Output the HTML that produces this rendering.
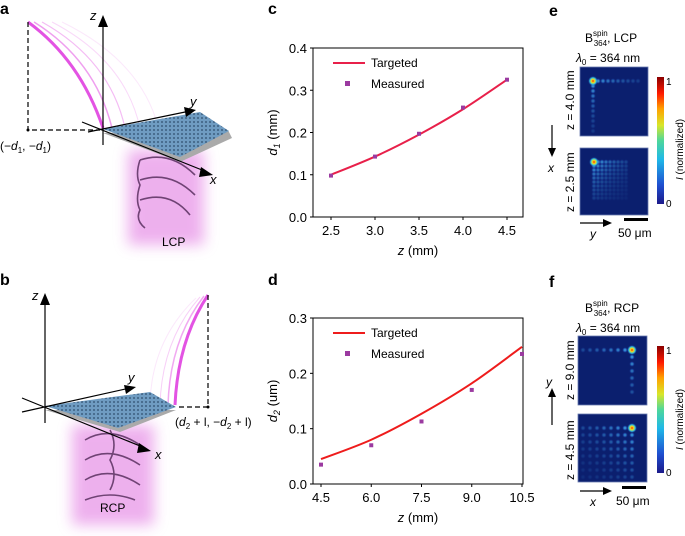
<!DOCTYPE html>
<html><head><meta charset="utf-8"><style>
html,body{margin:0;padding:0;background:#fff;}
svg{display:block;font-family:"Liberation Sans",sans-serif;}
</style></head><body>
<svg id="fig" width="685" height="536" viewBox="0 0 685 536" xmlns="http://www.w3.org/2000/svg">
<defs>
<filter id="blur6" x="-50%" y="-50%" width="200%" height="200%"><feGaussianBlur stdDeviation="7"/></filter>
<pattern id="pillars" width="4" height="4" patternUnits="userSpaceOnUse"><rect width="4" height="4" fill="#6f9cc2"/><circle cx="2" cy="2" r="1" fill="#3d5f80"/></pattern>
<linearGradient id="cbar" x1="0" y1="1" x2="0" y2="0">
<stop offset="0" stop-color="#1c1a8a"/><stop offset="0.15" stop-color="#1f4fd0"/><stop offset="0.35" stop-color="#1fb8e8"/><stop offset="0.5" stop-color="#4fd79a"/><stop offset="0.62" stop-color="#d8e62a"/><stop offset="0.75" stop-color="#ffa000"/><stop offset="0.87" stop-color="#ff1a00"/><stop offset="1" stop-color="#8a0000"/>
</linearGradient>
<radialGradient id="spot"><stop offset="0" stop-color="#ff2a00"/><stop offset="0.35" stop-color="#f0e020"/><stop offset="0.65" stop-color="#30c0e0"/><stop offset="1" stop-color="#1a3aa0" stop-opacity="0"/></radialGradient>
<radialGradient id="dot"><stop offset="0" stop-color="#50d0f0"/><stop offset="0.5" stop-color="#2a70d0"/><stop offset="1" stop-color="#1a3aa0" stop-opacity="0"/></radialGradient>
</defs>

<g font-weight="bold" font-size="16">
<text x="0" y="14">a</text><text x="0" y="285">b</text>
<text x="268" y="14">c</text><text x="268" y="285">d</text>
<text x="549" y="16">e</text><text x="549" y="287">f</text>
</g>

<g>
<rect x="128" y="150" width="76" height="95" fill="#e070e0" opacity="0.55" filter="url(#blur6)"/>
<g stroke="#5a3060" stroke-width="1.6" fill="none" opacity="0.85">
<path d="M140 160 Q170 150 195 175 M140 180 Q170 170 195 195 M140 200 Q170 190 190 215"/>
<path d="M140 160 Q135 175 140 185 Q135 200 140 210 Q135 220 145 228"/>
</g>
<text x="162" y="246" font-size="12">LCP</text>
<g stroke="#e040e0" fill="none">
<path d="M28 22 Q80 60 103 128" stroke-width="3" opacity="0.9"/>
<path d="M34 22 Q95 60 112 128" stroke-width="1.5" opacity="0.5"/>
<path d="M42 22 Q110 60 125 128" stroke-width="1.2" opacity="0.35"/>
<path d="M52 22 Q125 60 140 128" stroke-width="1" opacity="0.2"/>
<path d="M62 22 Q140 60 158 126" stroke-width="1" opacity="0.12"/>
</g>
<polygon points="103,133 228,130 232,138 180,162" fill="#aaa"/>
<polygon points="103,129 200,112 229,131 180,157" fill="url(#pillars)"/>
<g stroke="#000" stroke-width="1.2" fill="none">
<line x1="103" y1="145" x2="103" y2="22"/>
<line x1="82" y1="122" x2="207" y2="172"/>
<line x1="88" y1="132" x2="190" y2="111"/>
<path d="M28 22 V130 H100" stroke-dasharray="5,3"/>
</g>
<polygon points="103,15 98,27 108,27" fill="#000"/>
<polygon points="196,110 184,107 186,117" fill="#000"/>
<polygon points="213,175 201,167 199,177" fill="#000"/>
<circle cx="28" cy="130" r="1.5" fill="#000"/>
<text x="90" y="20" font-size="13" font-style="italic">z</text>
<text x="190" y="106" font-size="13" font-style="italic">y</text>
<text x="210" y="184" font-size="13" font-style="italic">x</text>
<text x="0" y="150" font-size="12">(−<tspan font-style="italic">d</tspan><tspan font-size="8" dy="3">1</tspan><tspan dy="-3">, −</tspan><tspan font-style="italic">d</tspan><tspan font-size="8" dy="3">1</tspan><tspan dy="-3">)</tspan></text>
</g>

<g>
<rect x="72" y="425" width="82" height="100" fill="#e070e0" opacity="0.55" filter="url(#blur6)"/>
<g stroke="#5a3060" stroke-width="1.6" fill="none" opacity="0.85">
<path d="M85 440 Q110 425 140 445 M85 460 Q110 445 140 465 M85 480 Q110 465 140 485 M85 500 Q110 490 135 500"/>
<path d="M110 430 Q118 445 110 460 Q118 475 110 490"/>
</g>
<text x="100" y="512" font-size="12">RCP</text>
<g stroke="#e040e0" fill="none">
<path d="M208 295 Q178 340 175 405" stroke-width="3" opacity="0.9"/>
<path d="M204 296 Q170 340 168 405" stroke-width="1.5" opacity="0.45"/>
<path d="M200 297 Q162 340 160 405" stroke-width="1" opacity="0.25"/>
<path d="M196 298 Q152 340 150 403" stroke-width="1" opacity="0.12"/>
</g>
<polygon points="45,410 176,410 120,432" fill="#aaa"/>
<polygon points="45,406 150,392 176,407 118,428" fill="url(#pillars)"/>
<g stroke="#000" stroke-width="1.2" fill="none">
<line x1="45" y1="423" x2="45" y2="300"/>
<line x1="22" y1="398" x2="145" y2="448"/>
<line x1="22" y1="412" x2="130" y2="388"/>
<path d="M208 295 V407 H178" stroke-dasharray="5,3"/>
</g>
<polygon points="45,293 40,305 50,305" fill="#000"/>
<polygon points="136,387 124,385 126,394" fill="#000"/>
<polygon points="151,451 139,443 137,453" fill="#000"/>
<circle cx="208" cy="407" r="1.5" fill="#000"/>
<text x="32" y="300" font-size="13" font-style="italic">z</text>
<text x="128" y="382" font-size="13" font-style="italic">y</text>
<text x="155" y="459" font-size="13" font-style="italic">x</text>
<text x="175" y="426" font-size="12">(<tspan font-style="italic">d</tspan><tspan font-size="8" dy="3">2</tspan><tspan dy="-3"> + l, −</tspan><tspan font-style="italic">d</tspan><tspan font-size="8" dy="3">2</tspan><tspan dy="-3"> + l)</tspan></text>
</g>

<g id="charts"></g>
<g id="heat"></g>

<g font-size="12">
<text x="585" y="42">B<tspan font-size="8" dy="-6">spin</tspan><tspan font-size="8" dx="-14" dy="10">364</tspan><tspan dy="-4">, LCP</tspan></text>
<text x="576" y="62"><tspan font-style="italic">λ</tspan><tspan font-size="8" dy="3">0</tspan><tspan dy="-3"> = 364 nm</tspan></text>
<text transform="translate(574,130) rotate(-90)">z = 4.0 mm</text>
<text transform="translate(574,212) rotate(-90)">z = 2.5 mm</text>
<line x1="552" y1="125" x2="552" y2="152" stroke="#000" stroke-width="1.2"/><polygon points="552,157 548,148 556,148" fill="#000"/>
<text x="548" y="172" font-style="italic">x</text>
<line x1="580" y1="223" x2="607" y2="223" stroke="#000" stroke-width="1.2"/><polygon points="612,223 603,219 603,227" fill="#000"/>
<text x="590" y="238" font-style="italic">y</text>
<rect x="624" y="218" width="24" height="3" fill="#000"/>
<text x="618" y="237">50 μm</text>
<text x="666" y="85" font-size="10">1</text><text x="666" y="207" font-size="10">0</text>
<text transform="translate(683,180) rotate(-90)" font-size="10"><tspan font-style="italic">I</tspan> (normalized)</text>
</g>
<g font-size="12">
<text x="585" y="312">B<tspan font-size="8" dy="-6">spin</tspan><tspan font-size="8" dx="-14" dy="10">364</tspan><tspan dy="-4">, RCP</tspan></text>
<text x="576" y="332"><tspan font-style="italic">λ</tspan><tspan font-size="8" dy="3">0</tspan><tspan dy="-3"> = 364 nm</tspan></text>
<text transform="translate(574,400) rotate(-90)">z = 9.0 mm</text>
<text transform="translate(574,480) rotate(-90)">z = 4.5 mm</text>
<line x1="552" y1="425" x2="552" y2="395" stroke="#000" stroke-width="1.2"/><polygon points="552,388 548,397 556,397" fill="#000"/>
<text x="546" y="386" font-style="italic">y</text>
<line x1="580" y1="491" x2="607" y2="491" stroke="#000" stroke-width="1.2"/><polygon points="612,491 603,487 603,495" fill="#000"/>
<text x="590" y="506" font-style="italic">x</text>
<rect x="622" y="486" width="24" height="3" fill="#000"/>
<text x="616" y="505">50 μm</text>
<text x="666" y="354" font-size="10">1</text><text x="666" y="476" font-size="10">0</text>
<text transform="translate(683,450) rotate(-90)" font-size="10"><tspan font-style="italic">I</tspan> (normalized)</text>
</g>
</svg>
<script>
const NS='http://www.w3.org/2000/svg';
const cZ=[2.5,3.0,3.5,4.0,4.5];
const cTargeted=[0.1,0.143,0.195,0.255,0.325];
const cMeasured=[0.098,0.143,0.197,0.259,0.325];
const cXTicks=['2.5','3.0','3.5','4.0','4.5'];
const cYTicks=['0.0','0.1','0.2','0.3','0.4'];
const dZ=[4.5,6.0,7.5,9.0,10.5];
const dTargeted=[0.045,0.08,0.127,0.182,0.248];
const dMeasured=[0.035,0.07,0.113,0.17,0.235];
const dXTicks=['4.5','6.0','7.5','9.0','10.5'];
const dYTicks=['0.0','0.1','0.2','0.3'];

function mk(tag,attrs,parent){const e=document.createElementNS(NS,tag);for(const k in attrs)e.setAttribute(k,attrs[k]);parent.appendChild(e);return e;}
const charts=document.getElementById('charts');
function chart(o){
  const g=mk('g',{},charts);
  
  
  const sx=v=>o.x0+(v-o.xmin)/(o.xmax-o.xmin)*(o.x1-o.x0);
  const sy=v=>o.yb-(v-o.ymin)/(o.ymax-o.ymin)*(o.yb-o.yt);
  const fr=mk('rect',{x:o.L,y:o.yt,width:o.R-o.L,height:o.yb-o.yt,fill:'none',stroke:'#000','stroke-width':1},g);
  
  
  o.xt.forEach(t=>{const v=parseFloat(t),x=sx(v);
    mk('line',{x1:x,y1:o.yb,x2:x,y2:o.yb+3,stroke:'#000'},g);
    const tx=mk('text',{x:x,y:o.yb+18,'font-size':13,'text-anchor':'middle'},g);tx.textContent=t;
    
    });
  o.yt_.forEach(t=>{const v=parseFloat(t),y=sy(v);
    mk('line',{x1:o.L,y1:y,x2:o.L-3,y2:y,stroke:'#000'},g);
    const tx=mk('text',{x:o.L-6,y:y+5,'font-size':13,'text-anchor':'end'},g);tx.textContent=t;
    
    });
  const P=o.z.map((z,i)=>[sx(z),sy(o.t[i])]);
  let d='M'+P[0][0]+' '+P[0][1];
  for(let i=0;i<P.length-1;i++){const p0=P[i-1]||P[i],p1=P[i],p2=P[i+1],p3=P[i+2]||P[i+1];
    d+=' C'+(p1[0]+(p2[0]-p0[0])/6)+' '+(p1[1]+(p2[1]-p0[1])/6)+' '+(p2[0]-(p3[0]-p1[0])/6)+' '+(p2[1]-(p3[1]-p1[1])/6)+' '+p2[0]+' '+p2[1];}
  const ln=mk('path',{d:d,fill:'none',stroke:o.col,'stroke-width':2},g);
  
  
  o.z.forEach((z,i)=>{const m=mk('rect',{x:sx(z)-2,y:sy(o.m[i])-2,width:4,height:4,fill:'#9b3aa0'},g);
    
    });
  const lg=mk('g',{},g);
  
  
  const ly=o.yt+15;
  mk('line',{x1:o.L+20,y1:ly,x2:o.L+52,y2:ly,stroke:o.col,'stroke-width':2},lg);
  let t1=mk('text',{x:o.L+58,y:ly+4,'font-size':12},lg);t1.textContent='Targeted';
  mk('rect',{x:o.L+32,y:ly+18,width:5,height:5,fill:'#9b3aa0'},lg);
  let t2=mk('text',{x:o.L+58,y:ly+25,'font-size':12},lg);t2.textContent='Measured';
  const xl=mk('text',{x:(o.L+o.R)/2,y:o.yb+38,'font-size':13,'text-anchor':'middle'},g);
  xl.innerHTML='<tspan font-style="italic">z</tspan> (mm)';
  
  
  const yl=mk('text',{transform:`translate(${o.L-36},${(o.yt+o.yb)/2}) rotate(-90)`,'font-size':13,'text-anchor':'middle'},g);
  yl.innerHTML='<tspan font-style="italic">d</tspan><tspan font-size="9" dy="3" font-style="italic">'+o.sub+'</tspan><tspan dy="-3"> ('+o.unit+')</tspan>';
  
  
}
chart({name:'chart-c',L:313,R:523,yt:48,yb:217,x0:331,x1:507,xmin:2.5,xmax:4.5,ymin:0,ymax:0.4,z:cZ,t:cTargeted,m:cMeasured,xt:cXTicks,yt_:cYTicks,col:'#e8204a',sub:'1',unit:'mm'});
chart({name:'chart-d',L:313,R:523,yt:318,yb:484,x0:321,x1:522,xmin:4.5,xmax:10.5,ymin:0,ymax:0.3,z:dZ,t:dTargeted,m:dMeasured,xt:dXTicks,yt_:dYTicks,col:'#ee1c1c',sub:'2',unit:'um'});

const heat=document.getElementById('heat');
function hm(name,x,y,w,h,sx,sy,dx,dy,nx,ny,grid){
  const g=mk('g',{},heat);
  
  
  mk('rect',{x:x,y:y,width:w,height:h,fill:'#0b1f6e',stroke:'#6a7ab0','stroke-width':0.8},g);
  for(let j=0;j<ny;j++)for(let i=0;i<nx;i++){
    if(!grid && i>0 && j>0) continue;
    const a=Math.pow(0.85,i+j);
    if(i||j) mk('circle',{cx:sx+i*dx,cy:sy+j*dy,r:2.8,fill:'url(#dot)',opacity:a},g);
  }
  mk('circle',{cx:sx,cy:sy,r:5,fill:'url(#spot)'},g);
}
hm('heatmap-e-top',580,67,68,69,593,81,5,5,10,11,false);
hm('heatmap-e-bottom',580,148,68,67,594,162,4,4,9,10,true);
hm('heatmap-f-top',578,336,69,69,632,350,-7,7,8,7,false);
hm('heatmap-f-bottom',578,414,69,68,632,428,-7,7,8,8,true);
[[657,77,127,'colorbar-e'],[657,346,127,'colorbar-f']].forEach(c=>{const r=mk('rect',{x:c[0],y:c[1],width:7,height:c[2],fill:'url(#cbar)'},heat);
  
  });
</script>
</body></html>
